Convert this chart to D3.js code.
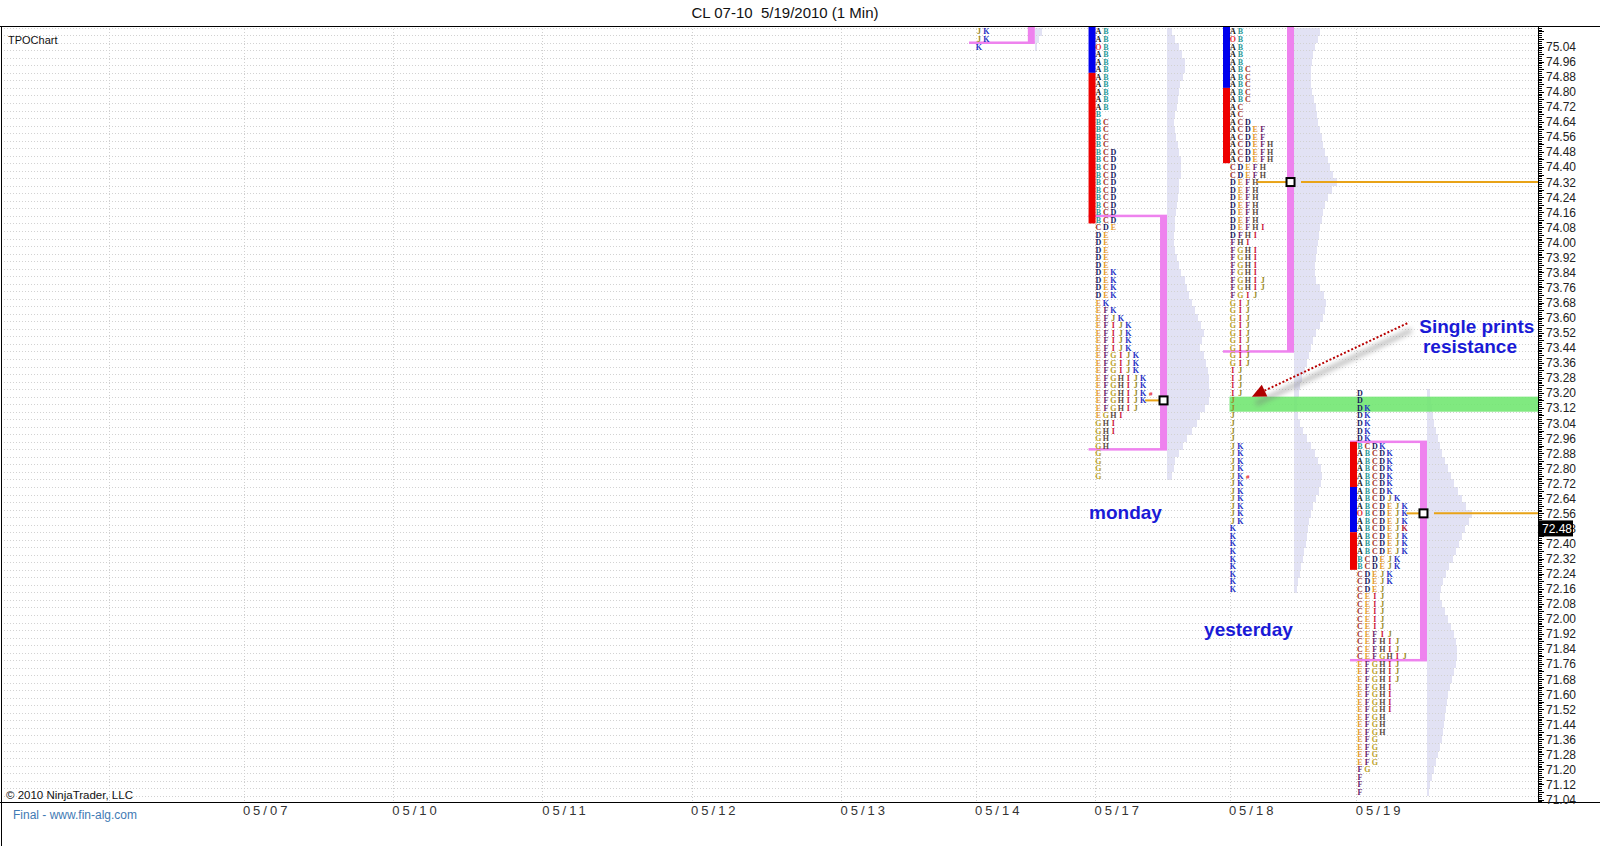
<!DOCTYPE html>
<html>
<head>
<meta charset="utf-8">
<script src="https://cdn.jsdelivr.net/npm/d3@7/dist/d3.min.js"></script>
<style>
  body { margin: 0; background: #fff; }
  svg { display: block; font-family: "Liberation Sans", Arial, sans-serif; }
</style>
</head>
<body>
<svg id="chart"></svg>
<script>
const width = 1600;
const height = 846;
const plot = {left: 1, right: 1538, top: 26, bottom: 802};

// sessions on the x axis, position given in TPO columns (one column = one letter slot)
const sessionDates = ['05/06', '05/07', '05/10', '05/11', '05/12', '05/13', '05/14', '05/17', '05/18', '05/19'];
const sessionCols = [0, 18, 38, 58, 78, 98, 116, 132, 150, 167];
const colDomain = [-14.6, 191.3];

// price axis
const priceMin = 71.04, priceMax = 75.04, priceLabelStep = 0.08, rowSize = 0.04;
const lastPrice = 72.48;

// TPO rows top -> bottom, one string per 0.04 price row.
// O = open, # = close, k = last print (K)
const may14Top = 75.12;
const may14Rows = ['JK', 'JK', 'K'];
const may14Volume = [7, 4, 2];
const may14VA = [75.06, 75.40];

const mondayTop = 75.12;
const mondayRows = [
  'AB', 'AB', 'OB', 'AB', 'AB', 'AB', 'AB', 'AB', 'AB', 'AB',
  'AB', 'B', 'BC', 'BC', 'BC', 'BC', 'BCD', 'BCD', 'BCD', 'BCD',
  'BCD', 'BCD', 'BCD', 'BCD', 'BCD', 'BCD', 'CDE', 'DE', 'DE', 'DE',
  'DE', 'DE', 'DEK', 'DEK', 'DEK', 'DEK', 'EK', 'EFK', 'EFJK', 'EFIJK',
  'EFIJK', 'EFIJK', 'EFIJK', 'EFGIJK', 'EFGIJK', 'EFGIJK', 'EFGHIJK', 'EFGHIJK', 'EFGHIJK#', 'EFGHIJK',
  'EFGHIJ', 'EGHI', 'GHI', 'GHI', 'GH', 'GH', 'G', 'G', 'G', 'G'
];
const mondayVolume = [
  5, 8, 12, 15, 18, 18, 16, 13, 12, 11,
  10, 8, 7, 8, 9, 11, 12, 14, 14, 14,
  12, 12, 11, 10, 9, 8, 8, 7, 7, 8,
  10, 12, 14, 18, 20, 22, 25, 28, 31, 34,
  37, 35, 33, 37, 39, 41, 42, 42, 43, 42,
  38, 33, 30, 25, 20, 16, 12, 8, 7, 5
];
const mondayIB = [[74.90, 75.40, 0], [74.10, 74.90, 1]];
const mondayVA = [72.90, 74.14];
const mondayPOC = 73.16;

const yesterdayTop = 75.12;
const yesterdayRows = [
  'AB', 'OB', 'AB', 'AB', 'AB', 'ABC', 'ABC', 'ABC', 'ABC', 'ABC',
  'AC', 'AC', 'ACD', 'ACDEF', 'ACDEF', 'ACDEFH', 'ACDEFH', 'ACDEFH', 'CDEFH', 'CDEFH',
  'DEFH', 'DEFH', 'DEFH', 'DEFH', 'DEFH', 'DEFH', 'DEFHI', 'DFHI', 'FHI', 'FGHI',
  'FGHI', 'FGHI', 'FGHI', 'FGHIJ', 'FGHIJ', 'FGIJ', 'GIJ', 'GIJ', 'GIJ', 'GIJ',
  'GIJ', 'GIJ', 'GIJ', 'GIJ', 'GIJ', 'IJ', 'IJ', 'IJ', 'IJ', 'J',
  'J', 'J', 'J', 'J', 'J', 'JK', 'JK', 'JK', 'JK', 'JK#',
  'JK', 'JK', 'JK', 'JK', 'JK', 'JK', 'K', 'K', 'K', 'K',
  'K', 'K', 'K', 'K', 'K'
];
const yesterdayVolume = [
  26, 24, 21, 19, 18, 17, 17, 17, 18, 20,
  22, 23, 24, 26, 28, 29, 31, 34, 36, 39,
  43, 38, 34, 31, 29, 28, 26, 25, 24, 23,
  22, 21, 21, 22, 26, 30, 32, 31, 29, 26,
  22, 19, 17, 15, 13, 11, 8, 6, 5, 3,
  3, 4, 6, 9, 13, 17, 21, 24, 27, 28,
  27, 25, 22, 19, 17, 15, 14, 13, 12, 10,
  9, 7, 6, 4, 3
];
const yesterdayIB = [[74.82, 75.40, 0], [74.42, 74.82, 1]];
const yesterdayVA = [73.42, 75.40];
const yesterdayPOC = 74.32;

const todayTop = 73.20;
const todayRows = [
  'D', 'D', 'DK', 'DK', 'DK', 'DK', 'DK', 'BCDK', 'ABCDK', 'ABCDK',
  'ABCDK', 'ABCDK', 'ABCDK', 'ABCDK', 'ABCDJK', 'ABCDEJK', 'OBCDEJK', 'ABCDEJK', 'ABCDEJk', 'ABCDEJK',
  'ABCDEJK', 'ABCDEJK', 'BCDEJK', 'BCDEJK', 'CDEJK', 'CDEJK', 'CDEJ', 'CEIJ', 'CEIJ', 'CEIJ',
  'CEIJ', 'CEIJ', 'CEFIJ', 'CEFHIJ', 'CEFHIJ', 'CEFGHIJ', 'EFGHIJ', 'EFGHIJ', 'EFGHIJ', 'EFGHI',
  'EFGHI', 'EFGHI', 'EFGHI', 'EFGH', 'EFGH', 'EFGH', 'EFG', 'EFG', 'EFG', 'EFG',
  'FG', 'F', 'F', 'F'
];
const todayVolume = [
  3, 4, 5, 6, 7, 9, 11, 13, 15, 18,
  21, 24, 27, 31, 35, 39, 45, 42, 38, 35,
  32, 29, 26, 22, 19, 16, 14, 13, 15, 18,
  21, 24, 27, 29, 30, 30, 29, 27, 25, 23,
  21, 20, 19, 18, 17, 16, 15, 13, 11, 9,
  7, 5, 3, 2
];
const todayIB = [[72.70, 72.94, 1], [72.46, 72.70, 0], [72.26, 72.46, 1]];
const todayVA = [71.78, 72.94];
const todayPOC = 72.56;

// single prints zone left by yesterday
const singlePrints = [73.10, 73.18];

// styles
const tpoColors = {
  A: '#1a1a1a', B: '#2a9a9a', C: '#a2301e', D: '#16165c', E: '#e49a2c', F: '#6a1a6a',
  G: '#bca22a', H: '#5a4a3e', I: '#cc1838', J: '#9a8a26', K: '#1f30c4',
  O: '#e63030', '#': '#e52020', k: '#b0102c'
};
const ibColors = ['#0000ee', '#ee0000'];
const pink = '#ee82ee';
const pocColor = '#e8a317';
const volColor = '#e2e2f4';
const noteColor = '#1a1ad6';

const svg = d3.select('#chart').attr('width', width).attr('height', height);
svg.append('rect').attr('width', width).attr('height', height).attr('fill', '#fff');

const defs = svg.append('defs');
defs.append('clipPath').attr('id', 'plotClip').append('rect')
  .attr('x', plot.left).attr('y', plot.top)
  .attr('width', plot.right - plot.left).attr('height', plot.bottom - plot.top);
defs.append('filter').attr('id', 'soft').attr('x', '-20%').attr('y', '-50%').attr('width', '140%').attr('height', '200%')
  .append('feGaussianBlur').attr('stdDeviation', 2.5);

const x = d3.scaleLinear().domain(colDomain).range([0, plot.right]);
const y = d3.scaleLinear().domain([priceMin, priceMax]).range([799.5, 46.5]);
const vol = d3.scaleLinear().domain([0, 45]).range([0, 45]);

const r2 = v => Math.round(v * 100) / 100;

const body = svg.append('g').attr('clip-path', 'url(#plotClip)');
const gVol = body.append('g');
const gGrid = body.append('g');
const gBand = body.append('g');
const gVA = body.append('g');
const gIB = body.append('g');
const gTxt = body.append('g').attr('font-family', '"Liberation Serif", "DejaVu Serif", serif').attr('font-weight', 'bold');
const gPoc = body.append('g');
const gNote = svg.append('g');

// grid: row boundaries and session starts
const gridPrices = d3.range(0, 110).map(i => r2(71.02 + i * rowSize)).filter(p => y(p) > plot.top && y(p) < plot.bottom);
gGrid.selectAll('line.h').data(gridPrices).join('line')
  .attr('class', 'h')
  .attr('x1', plot.left).attr('x2', plot.right)
  .attr('y1', d => Math.round(y(d)) + 0.5).attr('y2', d => Math.round(y(d)) + 0.5)
  .attr('stroke', '#d2d2d2').attr('stroke-dasharray', '1,2');
gGrid.selectAll('line.v').data(sessionCols).join('line')
  .attr('class', 'v')
  .attr('x1', d => Math.round(x(d)) + 0.5).attr('x2', d => Math.round(x(d)) + 0.5)
  .attr('y1', plot.top).attr('y2', plot.bottom)
  .attr('stroke', '#cfcfcf').attr('stroke-dasharray', '1,2');

const profiles = [
  {col: sessionCols[6], top: may14Top, rows: may14Rows, volume: may14Volume, ib: [], va: may14VA, poc: null, vaCol: 7.0, naked: false},
  {col: sessionCols[7], top: mondayTop, rows: mondayRows, volume: mondayVolume, ib: mondayIB, va: mondayVA, poc: mondayPOC, vaCol: 8.7, naked: false},
  {col: sessionCols[8], top: yesterdayTop, rows: yesterdayRows, volume: yesterdayVolume, ib: yesterdayIB, va: yesterdayVA, poc: yesterdayPOC, vaCol: 7.7, naked: true},
  {col: sessionCols[9], top: todayTop, rows: todayRows, volume: todayVolume, ib: todayIB, va: todayVA, poc: todayPOC, vaCol: 8.5, naked: true}
];

// single prints band
gBand.append('rect')
  .attr('x', x(sessionCols[8])).attr('width', plot.right - x(sessionCols[8]))
  .attr('y', y(singlePrints[1])).attr('height', y(singlePrints[0]) - y(singlePrints[1]))
  .attr('fill', '#6ee66e').attr('opacity', 0.88);

profiles.forEach(p => {
  const prices = p.rows.map((_, i) => r2(p.top - i * rowSize));
  const barX = x(p.col + p.vaCol);
  const left = x(p.col) - 6.5;

  // volume histogram
  gVol.selectAll(null).data(p.volume).join('rect')
    .attr('x', barX + 7)
    .attr('y', (d, i) => y(prices[i] + rowSize / 2))
    .attr('height', (d, i) => y(prices[i] - rowSize / 2) - y(prices[i] + rowSize / 2) + 0.4)
    .attr('width', d => vol(d))
    .attr('fill', volColor).attr('shape-rendering', 'crispEdges');

  // initial balance bar
  gIB.selectAll(null).data(p.ib).join('rect')
    .attr('x', left).attr('width', 7)
    .attr('y', d => y(d[1])).attr('height', d => y(d[0]) - y(d[1]))
    .attr('fill', d => ibColors[d[2]]);

  // value area bracket
  gVA.append('rect').attr('x', barX).attr('width', 7)
    .attr('y', y(p.va[1])).attr('height', y(p.va[0]) - y(p.va[1])).attr('fill', pink);
  p.va.forEach(v => {
    gVA.append('rect').attr('x', left).attr('width', barX + 7 - left)
      .attr('y', y(v) - 1.25).attr('height', 2.5).attr('fill', pink);
  });

  // letters
  const letters = [];
  p.rows.forEach((row, i) => row.split('').forEach((ch, j) => letters.push({ch, j, price: prices[i]})));
  gTxt.selectAll(null).data(letters).join('text')
    .attr('x', d => x(p.col + d.j + 0.45))
    .attr('y', d => y(d.price) + 3)
    .attr('text-anchor', 'middle')
    .attr('font-size', d => d.ch === '#' ? 7 : 8)
    .attr('fill', d => tpoColors[d.ch])
    .text(d => d.ch === 'k' ? 'K' : d.ch);

  // point of control
  if (p.poc !== null) {
    const n = p.rows[prices.indexOf(p.poc)].replace('#', '').length;
    const py = y(p.poc);
    gPoc.append('line').attr('x1', x(p.col + n - 0.3)).attr('x2', barX)
      .attr('y1', py).attr('y2', py).attr('stroke', pocColor).attr('stroke-width', 2);
    if (p.naked) {
      gPoc.append('line').attr('x1', barX + 14).attr('x2', plot.right)
        .attr('y1', py).attr('y2', py).attr('stroke', pocColor).attr('stroke-width', 2);
    }
    gPoc.append('rect').attr('x', barX + 3.5 - 4).attr('y', py - 4).attr('width', 8).attr('height', 8)
      .attr('fill', '#fff').attr('stroke', '#000').attr('stroke-width', 2);
  }
});

// frame
svg.append('line').attr('x1', 0).attr('x2', width).attr('y1', plot.top + 0.5).attr('y2', plot.top + 0.5).attr('stroke', '#000');
svg.append('line').attr('x1', 0).attr('x2', width).attr('y1', plot.bottom + 0.5).attr('y2', plot.bottom + 0.5).attr('stroke', '#000');
svg.append('line').attr('x1', 1.5).attr('x2', 1.5).attr('y1', plot.top).attr('y2', height).attr('stroke', '#000');

// price axis
const axisG = svg.append('g').attr('transform', `translate(${plot.right},0)`);
axisG.append('line').attr('x1', 0.5).attr('x2', 0.5).attr('y1', plot.top).attr('y2', plot.bottom).attr('stroke', '#000');
const tickPrices = d3.range(0, 420).map(i => r2(71.02 + i * 0.01)).filter(p => y(p) > plot.top + 1 && y(p) < plot.bottom);
axisG.selectAll('line.t').data(tickPrices).join('line')
  .attr('class', 't')
  .attr('x1', 0).attr('x2', d => Math.round((d - priceMin) * 100) % 4 === 0 ? 6 : 4)
  .attr('y1', d => Math.round(y(d)) + 0.5).attr('y2', d => Math.round(y(d)) + 0.5)
  .attr('stroke', '#000').attr('shape-rendering', 'crispEdges');
const labelPrices = d3.range(0, 51).map(i => r2(priceMin + i * priceLabelStep));
axisG.selectAll('text.l').data(labelPrices).join('text')
  .attr('class', 'l')
  .attr('x', 8).attr('y', d => y(d) + 4.5)
  .attr('font-size', 12).attr('fill', '#222')
  .text(d => d.toFixed(2));
axisG.append('rect').attr('x', 1).attr('y', y(lastPrice) - 8).attr('width', 34).attr('height', 16).attr('fill', '#000');
axisG.append('text').attr('x', 4).attr('y', y(lastPrice) + 4.5).attr('font-size', 12).attr('fill', '#fff').text(lastPrice.toFixed(2));

// date axis
svg.selectAll('text.date').data(sessionDates.slice(1)).join('text')
  .attr('class', 'date')
  .attr('x', (d, i) => x(sessionCols[i + 1] + 3.1))
  .attr('y', 815)
  .attr('text-anchor', 'middle')
  .attr('font-size', 13).attr('letter-spacing', 3).attr('fill', '#333')
  .text(d => d);

// titles and credits
svg.append('text').attr('x', 785).attr('y', 18).attr('text-anchor', 'middle')
  .attr('font-size', 15).attr('fill', '#111').style('white-space', 'pre')
  .text('CL 07-10\u00a0\u00a05/19/2010 (1 Min)');
svg.append('text').attr('x', 8).attr('y', 44).attr('font-size', 11).attr('fill', '#111').text('TPOChart');
svg.append('text').attr('x', 6).attr('y', 799).attr('font-size', 11.5).attr('fill', '#111').text('\u00a9 2010 NinjaTrader, LLC');
svg.append('text').attr('x', 13).attr('y', 819).attr('font-size', 12).attr('fill', '#3f7ab4').text('Final - www.fin-alg.com');

// annotations (placed in column / price units)
const note = (txt, col, price) => gNote.append('text')
  .attr('x', x(col)).attr('y', y(price))
  .attr('font-size', 19).attr('font-weight', 'bold').attr('fill', noteColor).text(txt);
note('Single prints', 175.4, 73.52);
note('resistance', 175.9, 73.41);
note('monday', 131.2, 72.53);
note('yesterday', 146.6, 71.906);

const arrowFrom = [173.8, 73.57], arrowTo = [153.0, 73.18];
const ax1 = x(arrowFrom[0]), ay1 = y(arrowFrom[1]), ax2 = x(arrowTo[0]), ay2 = y(arrowTo[1]);
const len = Math.hypot(ax2 - ax1, ay2 - ay1);
const ux = (ax2 - ax1) / len, uy = (ay2 - ay1) / len;
const head = 14, half = 6.5;
const bx = ax2 - ux * head, by = ay2 - uy * head;
gNote.append('line')
  .attr('x1', ax1 + 4).attr('y1', ay1 + 7).attr('x2', ax2 + 4).attr('y2', ay2 + 7)
  .attr('stroke', '#777').attr('stroke-width', 5).attr('opacity', 0.45).attr('filter', 'url(#soft)');
gNote.append('line')
  .attr('x1', ax1).attr('y1', ay1).attr('x2', bx).attr('y2', by)
  .attr('stroke', '#b80000').attr('stroke-width', 2).attr('stroke-dasharray', '2,2');
gNote.append('path')
  .attr('d', `M${ax2},${ay2}L${bx - uy * half},${by + ux * half}L${bx + uy * half},${by - ux * half}Z`)
  .attr('fill', '#b00000');
</script>
</body>
</html>
